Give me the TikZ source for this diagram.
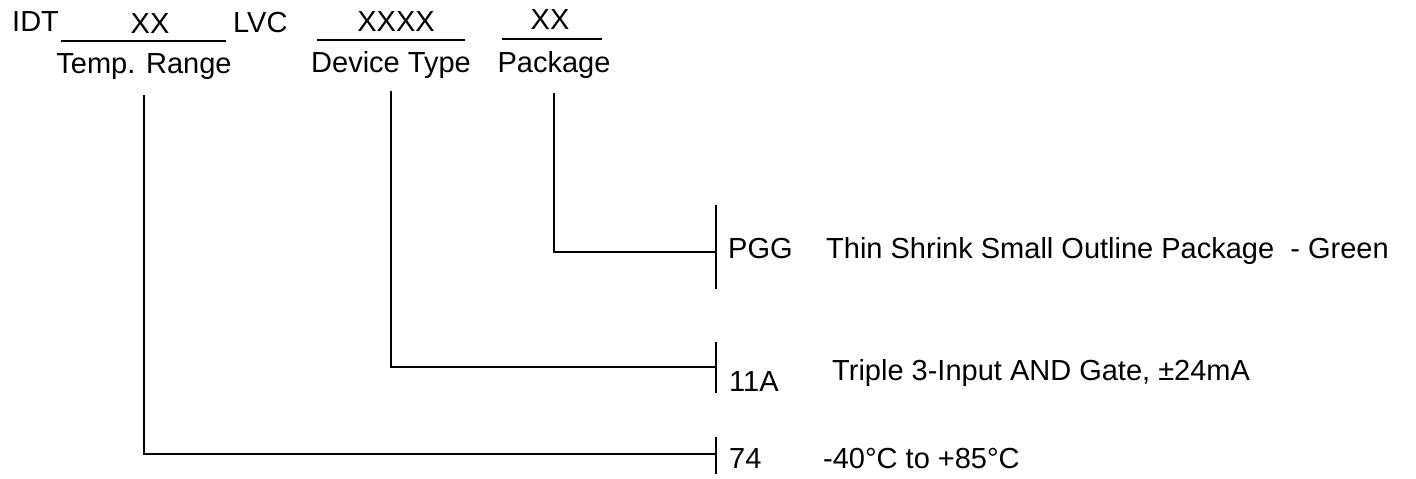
\documentclass[tikz,border=0pt]{standalone}
\usepackage{fontspec}
\setmainfont{Liberation Sans}
\usepackage{tikz}
\usetikzlibrary{positioning}

\begin{document}
\begin{tikzpicture}[x=1bp, y=-1bp,
    lbl/.style={inner sep=0pt, anchor=base west, font=\fontsize{29bp}{33bp}\selectfont},
    uline/.style={line width=1.6bp},
    link/.style={line width=1.3bp},
    tick/.style={line width=1.6bp}]
  \useasboundingbox (0,0) rectangle (1416,479);

  % --- Part number fields ---
  \node[lbl] (idt) at (12,32) {IDT};
  \node[lbl, anchor=base] (xxTemp) at (150,34) {XX};
  \node[lbl] (lvc) at (233,33) {LVC};
  \node[lbl, anchor=base] (xxxxDev) at (396,32) {XXXX};
  \node[lbl, anchor=base] (xxPkg) at (550,30) {XX};

  % blanks under the fields
  \draw[uline] (61,41) -- (226,41);
  \draw[uline] (317,40) -- (465,40);
  \draw[uline] (502,39) -- (602,39);

  % --- Field names ---
  \node[lbl, anchor=base] (temp) at (144,74) {Temp. Range};
  \node[lbl, anchor=base] (device) at (391,73) {Device Type};
  \node[lbl, anchor=base] (package) at (554,73) {Package};

  % --- Option ticks ---
  \coordinate (pkgBar) at (716,252);
  \coordinate (devBar) at (716,367);
  \coordinate (tempBar) at (716,454);
  \draw[tick] ([yshift=47bp]pkgBar) -- ([yshift=-37bp]pkgBar);
  \draw[tick] ([yshift=25bp]devBar) -- ([yshift=-26bp]devBar);
  \draw[tick] ([yshift=17bp]tempBar) -- ([yshift=-20bp]tempBar);

  % --- Leaders from field names to options ---
  \draw[link] ([yshift=-14bp]package.south) |- (pkgBar);
  \draw[link] ([yshift=-12bp]device.south) |- (devBar);
  \draw[link] ([yshift=-15bp]temp.south) |- (tempBar);

  % --- Options ---
  \node[lbl] (pgg) at (728,259) {PGG};
  \node[lbl] (pggText) at (826,259) {Thin Shrink Small Outline Package\ \ - Green};
  \node[lbl] (gate) at (729,391) {11A};
  \node[lbl] (gateText) at (832,380) {Triple 3-Input AND Gate, ±24mA};
  \node[lbl] (range) at (729,468) {74};
  \node[lbl] (rangeText) at (823,468) {-40°C to +85°C};

\end{tikzpicture}
\end{document}
